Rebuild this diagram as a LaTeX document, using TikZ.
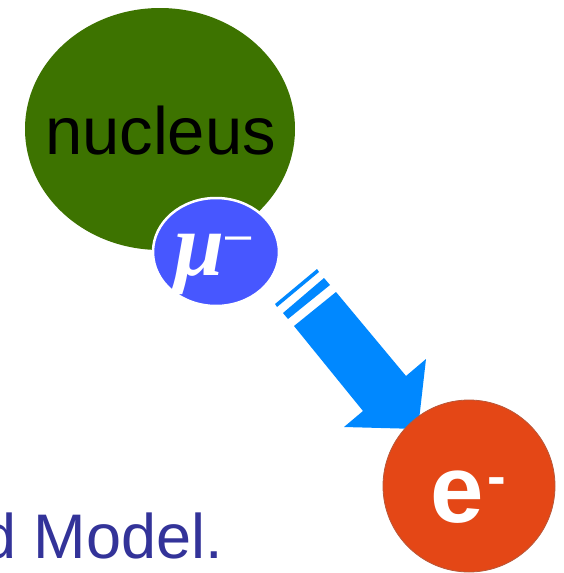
\documentclass[tikz,border=0pt]{standalone}
\usepackage{fontspec}
\setmainfont{Liberation Sans}
\newfontfamily\muserif{Liberation Serif}
\usetikzlibrary{shapes.geometric}
\definecolor{nucgreen}{HTML}{3D7300}
\definecolor{mublue}{HTML}{4757FF}
\definecolor{arrowblue}{HTML}{0088FF}
\definecolor{eorange}{HTML}{E44716}
\definecolor{eedge}{HTML}{B8583A}
\definecolor{txtblue}{HTML}{333399}
\begin{document}
\begin{tikzpicture}[x=1pt,y=-1pt,
  blob/.style={ellipse, inner sep=0pt},
  lbl/.style={inner sep=0pt},
  arrowpart/.style={fill=arrowblue, draw=none}]
\useasboundingbox (0,0) rectangle (563,573);
% nucleus
\node[blob, fill=nucgreen, minimum width=270pt, minimum height=242pt] (nuc) at (160,129) {};
\node[lbl, anchor=base, font=\fontsize{67}{67}\selectfont] (nuctext) at (160.5,154) {nucleus};
% muon
\node[blob, fill=mublue, draw=white, line width=2.5pt, minimum width=126pt, minimum height=108pt] (mu) at (216,252) {};
\node[lbl, anchor=base west, text=white] (mutext) at (174,275)
  {{\muserif\bfseries\itshape\fontsize{90}{90}\selectfont μ}\kern1pt\raisebox{25pt}{\fontsize{47}{47}\selectfont\textendash}};
% arrow
\fill[arrowpart] (275,304) -- (277,307) -- (319,272) -- (317,269) -- cycle;
\fill[arrowpart] (283,313) -- (288,319) -- (330,285) -- (324,278) -- cycle;
\fill[arrowpart] (294,326) -- (363,411) -- (344,427) -- (418,429) -- (426,359) -- (406,376) -- (336,292) -- cycle;
% electron
\node[circle, fill=eorange, draw=eedge, line width=0.8pt, minimum size=172pt, inner sep=0pt] (e) at (469,486) {};
\node[lbl, anchor=base west, text=white] (etext) at (430,522)
  {{\bfseries\fontsize{96}{96}\selectfont e}\kern4pt\raisebox{27pt}{\bfseries\fontsize{56}{56}\selectfont -}};
% text
\node[lbl, anchor=base west, text=txtblue, font=\fontsize{63}{63}\selectfont] (sm) at (-19,558) {d Model.};
\end{tikzpicture}
\end{document}
